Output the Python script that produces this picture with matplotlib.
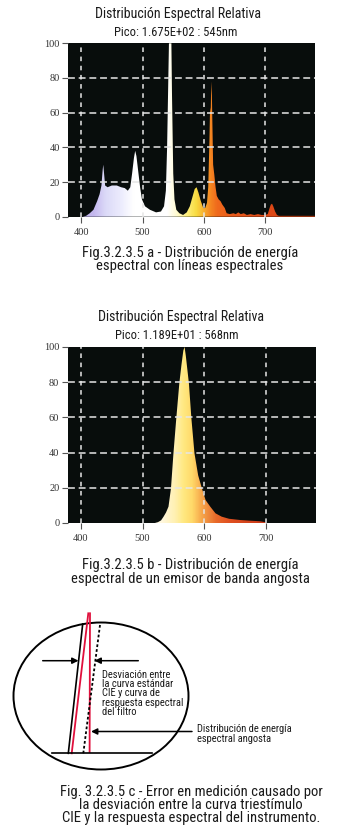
import matplotlib
matplotlib.use('Agg')
import matplotlib.pyplot as plt
import numpy as np
from matplotlib import font_manager
from matplotlib.colors import LinearSegmentedColormap
from matplotlib.patches import Ellipse

# --- datos de los espectros ---
wl_a = [380, 402, 408, 414, 420, 426, 430, 433, 435, 436, 437, 439, 443, 450, 458,
        465, 471, 476, 480, 483, 486, 488, 490, 493, 496, 499, 504, 512, 522, 530,
        535, 538, 540, 542, 543, 547, 548, 550, 552, 555, 560, 566, 572, 577, 581,
        585, 588, 591, 595, 599, 602, 605, 607, 609, 610, 611, 612, 613, 615, 617,
        619, 621, 624, 627, 630, 634, 637, 642, 648, 652, 656, 660, 665, 670, 676,
        682, 688, 694, 700, 704, 707, 709, 711, 713, 716, 719, 722, 781]
val_a = [0, 0, 0.5, 2, 4, 9, 13, 18, 27, 30, 26, 18, 17, 18, 18,
         17, 16.5, 15, 17, 25, 34, 38, 35, 26, 17, 10, 6, 4, 2.5, 3,
         6, 15, 40, 80, 100, 100, 70, 25, 10, 4, 2, 1, 2.5, 6, 11,
         16, 17, 14, 9, 5, 5, 8, 17, 44, 63, 60, 78, 70, 30, 24,
         17, 12, 10, 9, 7, 5, 2, 1.5, 2, 1.5, 2.5, 1.5, 2, 1, 1.5,
         1, 1.5, 1, 1, 1.5, 5, 7, 7.5, 6, 3, 1, 0.5, 0.5]

wl_b = [520, 525, 530, 534, 538, 542, 546, 550, 554.6, 559.5, 563, 566, 568, 570,
        575, 579, 584, 590, 596, 602, 609.5, 618, 628, 640, 658, 675, 690, 698, 700]
val_b = [0, 0.5, 1.5, 3.6, 6, 9.3, 19.7, 39.6, 59.5, 79.4, 90, 98, 100, 95,
         79.4, 59.5, 39.6, 27, 19.7, 13, 9.3, 5.5, 3.6, 2.4, 1.7, 1.3, 1, 0.5, 0]

x_ticks = [400, 500, 600, 700]
y_ticks = [0, 20, 40, 60, 80, 100]
x_lim = (379, 781)

titulo = "Distribución Espectral Relativa"
pico_a = "Pico: 1.675E+02 : 545nm"
pico_b = "Pico: 1.189E+01 : 568nm"
cap_a = "Fig.3.2.3.5 a - Distribución de energía\nespectral con líneas espectrales"
cap_b = "Fig.3.2.3.5 b - Distribución de energía\nespectral de un emisor de banda angosta"
cap_c = ("Fig. 3.2.3.5 c - Error en medición causado por\n"
         "la desviación entre la curva triestímulo\n"
         "CIE y la respuesta espectral del instrumento.")
nota_1 = "Desviación entre\nla curva estándar\nCIE y curva de\nrespuesta espectral\ndel filtro"
nota_2 = "Distribución de energía\nespectral angosta"

# --- geometria del esquema c (pixeles de la figura) ---
circ_center = (101, 696)
circ_size = (175, 147)
linea_cie_x = [68.3, 82.7]
linea_cie_y = [753.3, 624]
roja_izq_x = [71.7, 88.3]
roja_izq_y = [753.3, 613.3]
roja_der_x = [90, 89.6]
roja_der_y = [613.3, 752]
punteada_x = [100, 83.3]
punteada_y = [625, 753.3]
base_x = [52, 152]
base_y = [753.3, 753.3]
flechas = [((42.7, 660.7), (78.5, 660.7)),
           ((138.3, 660.7), (94.5, 660.7)),
           ((192, 731.5), (91, 731.5))]

# colores por longitud de onda
stops_a = [(379, '#b8a8e6'), (420, '#c4b8ee'), (440, '#dcdaf8'), (465, '#ececfd'),
           (485, '#ffffff'), (540, '#ffffff'), (556, '#fffbd0'), (572, '#fff080'),
           (588, '#f8dc40'), (600, '#f8b030'), (610, '#f58a22'), (622, '#f06a1c'),
           (650, '#e85a1c'), (700, '#e04a18'), (781, '#d04010')]
stops_b = [(379, '#fff8e0'), (530, '#fff8e0'), (552, '#fff0b0'), (566, '#ffe880'),
           (580, '#ffd868'), (592, '#f8b050'), (604, '#f09040'), (618, '#e86a2a'),
           (640, '#e05020'), (700, '#c83818'), (781, '#c03010')]

names = {f.name for f in font_manager.fontManager.ttflist}
cond = 'DejaVu Sans'
for f in ['Liberation Sans Narrow', 'Roboto Condensed', 'Open Sans Condensed', 'Liberation Sans']:
    if f in names:
        cond = f
        break
serif = 'Liberation Serif' if 'Liberation Serif' in names else 'DejaVu Serif'

W, H = 355, 836
fig = plt.figure(figsize=(W / 100, H / 100), dpi=100)
fig.patch.set_facecolor('white')


def rect(left, top, right, bottom):
    return [left / W, 1 - bottom / H, (right - left) / W, (bottom - top) / H]


def cmap_from(stops):
    lo, hi = x_lim
    return LinearSegmentedColormap.from_list(
        'wl', [((w - lo) / (hi - lo), c) for w, c in stops])


def spectrum(ax, wl, val, stops):
    ax.set_facecolor('#080d0c')
    ax.set_xlim(*x_lim)
    ax.set_ylim(0, 100)
    poly = ax.fill_between(wl, 0, val, color='none', lw=0)
    img = ax.imshow(np.linspace(0, 1, 600)[None, :], extent=(x_lim[0], x_lim[1], 0, 100),
                    aspect='auto', cmap=cmap_from(stops), zorder=1, interpolation='bilinear')
    img.set_clip_path(poly.get_paths()[0], transform=ax.transData)
    for x in x_ticks:
        ax.axvline(x, color='#e6e6e6', lw=1.1, ls=(0, (3, 3)), zorder=2)
    for y in y_ticks[1:-1]:
        ax.axhline(y, color='#e6e6e6', lw=1.1, ls=(0, (4.5, 2.5)), zorder=2)
    ax.set_xticks(x_ticks)
    ax.set_yticks(y_ticks)
    for s in ax.spines.values():
        s.set_visible(False)
    ax.tick_params(axis='both', direction='out', length=4, width=0.8, color='#555555',
                   labelsize=7.5, labelcolor='#333333', pad=2)
    ax.tick_params(axis='x', pad=4)
    for lab in ax.get_xticklabels() + ax.get_yticklabels():
        lab.set_fontfamily(serif)


ax_a = fig.add_axes(rect(68.3, 43.3, 315, 216.7))
spectrum(ax_a, wl_a, val_a, stops_a)
ax_b = fig.add_axes(rect(67.7, 347, 316.3, 523))
spectrum(ax_b, wl_b, val_b, stops_b)


def ftext(x, y, s, size, **kw):
    fig.text(x / W, 1 - y / H, s, fontsize=size, family=cond, color='#1a1a1a',
             ha=kw.pop('ha', 'center'), va=kw.pop('va', 'center'), **kw)


ftext(178, 14, titulo, 10)
ftext(176, 33, pico_a, 9)
ftext(190, 259.5, cap_a, 10.5, linespacing=0.95)
ftext(181, 316.7, titulo, 10)
ftext(177, 335, pico_b, 9)
ftext(190, 572, cap_b, 10.5, linespacing=0.95)
ftext(191, 805, cap_c, 10.5, linespacing=0.95)

# --- esquema c ---
ax_c = fig.add_axes(rect(0, 600, W, 780))
ax_c.set_xlim(0, W)
ax_c.set_ylim(780, 600)
ax_c.axis('off')
ax_c.add_patch(Ellipse(circ_center, circ_size[0], circ_size[1], fill=False,
                       ec='black', lw=1.4))
ax_c.plot(linea_cie_x, linea_cie_y, color='black', lw=1.2)
ax_c.plot(roja_izq_x, roja_izq_y, color='#e0103c', lw=1.3)
ax_c.plot(roja_der_x, roja_der_y, color='#e0103c', lw=1.3)
ax_c.plot(punteada_x, punteada_y, color='black', lw=1.3, ls=(0, (1.5, 1.2)))
ax_c.plot(base_x, base_y, color='black', lw=1.2)
for start, end in flechas:
    ax_c.annotate('', xy=end, xytext=start,
                  arrowprops=dict(arrowstyle='-|>', color='black', lw=1.1,
                                  mutation_scale=9, shrinkA=0, shrinkB=0))
ax_c.text(101.7, 693.3, nota_1, fontsize=7.6, family=cond, color='#1a1a1a',
          ha='left', va='center', linespacing=0.92)
ax_c.text(197, 734, nota_2, fontsize=7.6, family=cond, color='#1a1a1a',
          ha='left', va='center', linespacing=0.92)

fig.savefig('out.png', dpi=100)
